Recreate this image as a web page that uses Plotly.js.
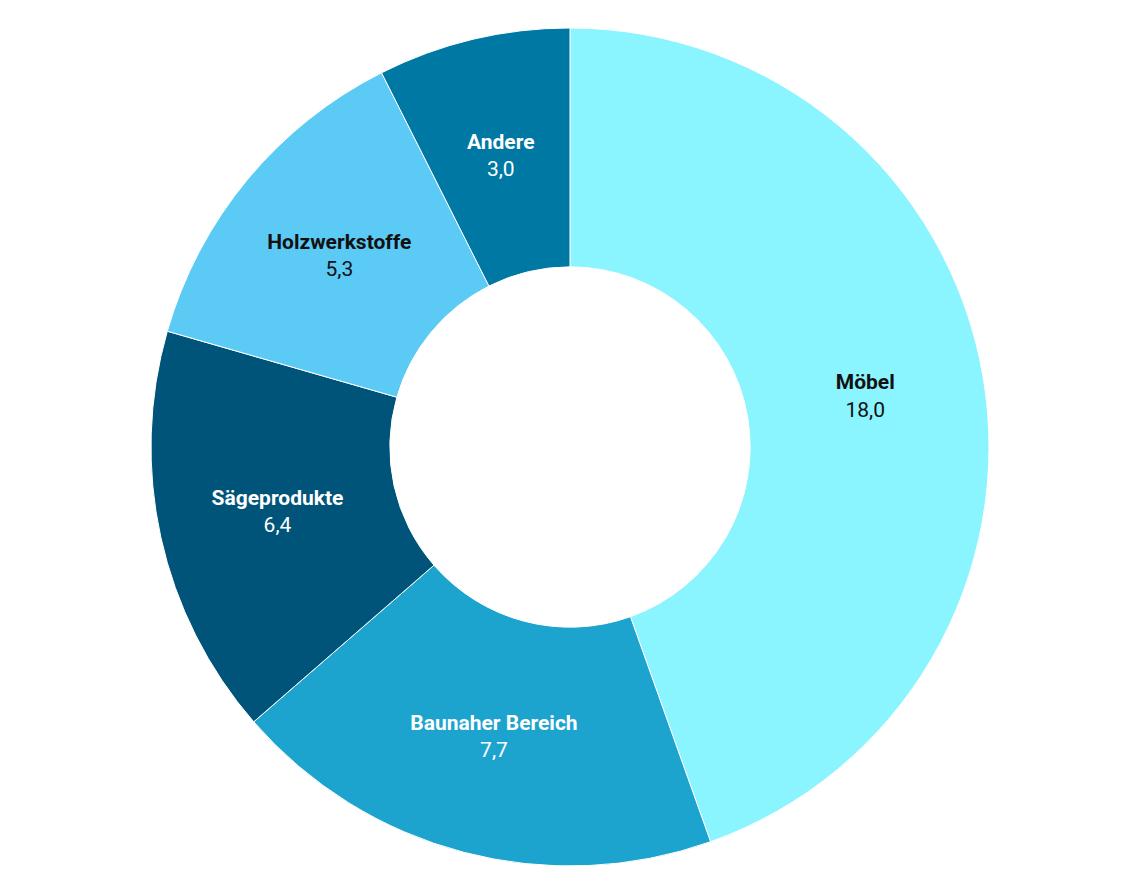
<!DOCTYPE html>
<html>
<head>
<meta charset="utf-8">
<script src="https://cdn.plot.ly/plotly-3.0.1.min.js"></script>
<style>html,body{margin:0;padding:0;background:#fff;}#chart{width:1148px;height:893px;}</style>
</head>
<body>
<div id="chart"></div>
<script>
const categories = ["Möbel", "Baunaher Bereich", "Sägeprodukte", "Holzwerkstoffe", "Andere"];
const values = [18.0, 7.7, 6.4, 5.3, 3.0];
const colors = ["#8AF4FF", "#1CA3CE", "#005479", "#5BCAF5", "#0078A4"];
const textColors = ["#111111", "#ffffff", "#ffffff", "#111111", "#ffffff"];

const W = 1148, H = 893;
const margin = { l: 150, r: 158, t: 28, b: 27 };
const hole = 0.43;
const fontSize = 21;
const fmt = v => v.toFixed(1).replace(".", ",");

// Slices whose inside text Plotly would push outward: label them at ring middle instead
const manualIdx = [4];
const total = values.reduce((a, b) => a + b, 0);
const pw = W - margin.l - margin.r, ph = H - margin.t - margin.b;
const rad = Math.min(pw, ph) / 2;
const midR = rad * (1 + hole) / 2;
let cum = 0;
const annotations = [];
values.forEach((v, i) => {
  const a = (cum + v / 2) / total * 2 * Math.PI;
  cum += v;
  if (manualIdx.includes(i)) {
    annotations.push({
      xref: "paper", yref: "paper",
      x: 0.5 + midR * Math.sin(a) / pw,
      y: 0.5 + midR * Math.cos(a) / ph,
      xanchor: "center", yanchor: "middle",
      showarrow: false,
      text: "<b>" + categories[i] + "</b><br>" + fmt(v),
      font: { family: "Roboto, sans-serif", size: fontSize, color: textColors[i] }
    });
  }
});
const templates = categories.map((c, i) => manualIdx.includes(i) ? "" : "<b>%{label}</b><br>%{value:.1f}");

Plotly.newPlot("chart", [{
  type: "pie",
  labels: categories,
  values: values,
  sort: false,
  direction: "clockwise",
  rotation: 0,
  hole: hole,
  marker: { colors: colors, line: { color: "#ffffff", width: 1 } },
  texttemplate: templates,
  textposition: "inside",
  insidetextorientation: "horizontal",
  insidetextfont: { family: "Roboto, sans-serif", size: fontSize, color: textColors },
  hoverinfo: "label+value"
}], {
  width: W,
  height: H,
  separators: ",.",
  showlegend: false,
  paper_bgcolor: "#ffffff",
  margin: margin,
  annotations: annotations
}, { displayModeBar: false });
</script>
</body>
</html>
